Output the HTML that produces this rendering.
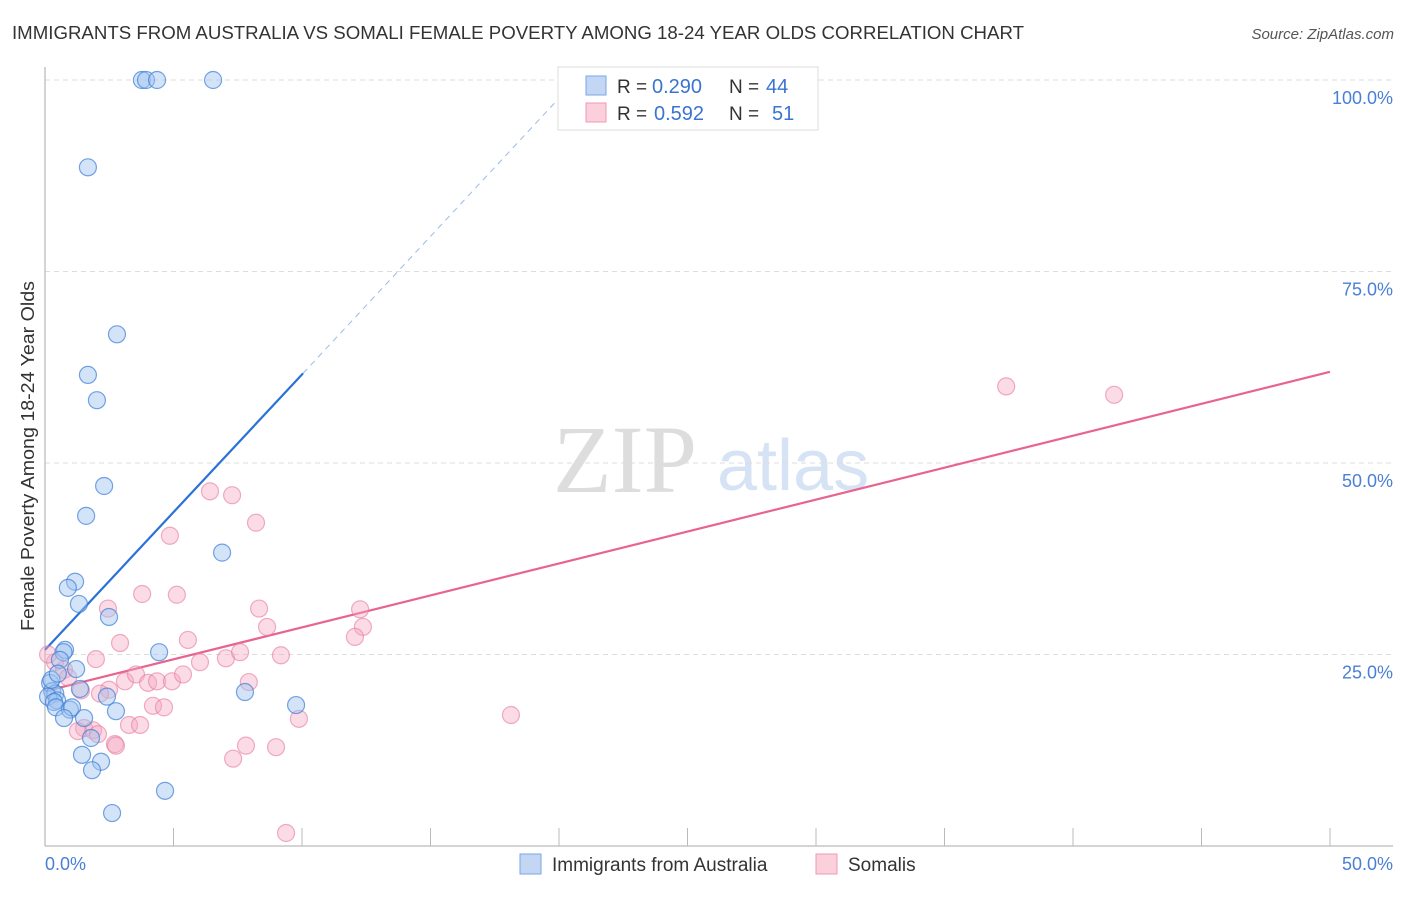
<!DOCTYPE html>
<html><head><meta charset="utf-8"><style>
body{margin:0;background:#fff;font-family:"Liberation Sans",sans-serif;}
</style></head><body>
<svg id="chart" width="1406" height="892" xmlns="http://www.w3.org/2000/svg">
<text x="12" y="39" font-size="18" fill="#333" textLength="1012" lengthAdjust="spacingAndGlyphs">IMMIGRANTS FROM AUSTRALIA VS SOMALI FEMALE POVERTY AMONG 18-24 YEAR OLDS CORRELATION CHART</text>
<text x="1394" y="39" font-size="15" font-style="italic" fill="#555" text-anchor="end">Source: ZipAtlas.com</text>
<text transform="translate(34,456) rotate(-90)" font-size="18" fill="#333" text-anchor="middle" textLength="350" lengthAdjust="spacingAndGlyphs">Female Poverty Among 18-24 Year Olds</text>
<text x="553" y="492" font-size="96" font-family="Liberation Serif,serif" fill="#ddd">ZIP</text>
<text x="717" y="490" font-size="72" fill="#d6e3f5">atlas</text>
<g id="grid"></g>
<g id="axes"></g>
<g id="trend"></g>
<g id="pts"></g>
<g>
<rect x="558" y="67" width="260" height="63" fill="#fff" stroke="#ddd"/>
<rect x="586" y="76" width="20" height="19" fill="#c3d7f5" stroke="#7aa6e6"/>
<rect x="586" y="103" width="20" height="19" fill="#fbd0dc" stroke="#ee9ab2"/>
<text x="617" y="93" font-size="19" fill="#333">R =</text>
<text x="652" y="93" font-size="20" fill="#3a74d0">0.290</text>
<text x="729" y="93" font-size="19" fill="#333">N =</text>
<text x="766" y="93" font-size="20" fill="#3a74d0">44</text>
<text x="617" y="120" font-size="19" fill="#333">R =</text>
<text x="654" y="120" font-size="20" fill="#3a74d0">0.592</text>
<text x="729" y="120" font-size="19" fill="#333">N =</text>
<text x="772" y="120" font-size="20" fill="#3a74d0">51</text>
</g>
<g>
<rect x="520" y="854" width="21" height="20" fill="#c3d7f5" stroke="#7aa6e6"/>
<text x="552" y="871" font-size="19" fill="#333">Immigrants from Australia</text>
<rect x="816" y="854" width="21" height="20" fill="#fbd0dc" stroke="#ee9ab2"/>
<text x="848" y="871" font-size="19" fill="#333">Somalis</text>
</g>
</svg>
<script>
const yTicks=[25,50,75,100];
const yTickLabels=["25.0%","50.0%","75.0%","100.0%"];
const xTickLabels=["0.0%","50.0%"];
const blueX=[3.77,3.93,4.36,6.54,1.67,2.8,1.67,2.02,2.3,1.6,6.89,1.17,0.89,1.32,2.49,0.78,0.72,4.44,1.21,0.58,0.2,0.28,0.4,0.12,0.47,0.35,1.36,2.41,7.78,9.77,0.43,0.97,1.05,2.76,0.74,1.52,1.79,1.44,2.18,1.83,4.67,2.61,0.25,0.5];
const blueY=[100,100,100,100,88.6,66.8,61.5,58.2,47.0,43.1,38.3,34.5,33.7,31.6,29.9,25.6,25.3,25.3,23.1,24.3,21.3,20.2,19.9,19.5,19.0,18.8,20.5,19.5,20.1,18.4,18.1,17.8,18.1,17.6,16.7,16.7,14.1,11.9,11.0,9.9,7.2,4.3,21.7,22.5];
const pinkX=[3.78,5.13,2.45,8.33,8.64,2.92,5.56,1.98,6.03,7.04,7.59,9.18,0.39,0.12,0.74,2.49,3.11,3.54,4.01,4.36,4.94,5.37,7.93,2.14,4.2,4.63,3.27,3.7,1.52,1.87,1.28,2.06,2.72,2.76,7.32,7.82,8.99,9.88,9.38,6.42,7.28,4.86,8.21,12.26,12.37,12.06,37.4,41.6,18.13,1.4,0.9];
const pinkY=[32.9,32.8,31.0,31.0,28.6,26.5,26.9,24.4,24.0,24.5,25.3,24.9,24.0,25.0,23.0,20.4,21.5,22.4,21.3,21.5,21.5,22.4,21.4,19.9,18.3,18.1,15.8,15.8,15.4,15.1,15.0,14.6,13.3,13.1,11.4,13.1,12.9,16.6,1.7,46.3,45.8,40.5,42.2,30.9,28.6,27.3,60.0,58.9,17.1,20.3,22.0];
const blueTrend=[[0,25.6],[10.04,61.7]];
const blueDash=[[10.04,61.7],[20.8,100.5]];
const pinkTrend=[[0,20.2],[50,61.9]];
const X0=45,X1=1330,Y0=846,Y100=80;
const sx=v=>X0+(X1-X0)*v/50;
const sy=v=>Y0-(Y0-Y100)*v/100;
const NS="http://www.w3.org/2000/svg";
function mk(tag,attrs,parent){const e=document.createElementNS(NS,tag);for(const k in attrs)e.setAttribute(k,attrs[k]);document.getElementById(parent).appendChild(e);return e;}
yTicks.forEach((t,i)=>{
 const g=mk('line',{x1:45,x2:1393,y1:sy(t),y2:sy(t),stroke:'#ddd','stroke-dasharray':'5,4'},'grid');
 
 
 const l=mk('text',{x:1393,y:sy(t)+24,'font-size':18,fill:'#4a7fd6','text-anchor':'end'},'grid');
 l.textContent=yTickLabels[i];
 
 
});
const ax=mk('line',{x1:45,x2:45,y1:67,y2:846,stroke:'#aaa'},'axes');


const bx=mk('line',{x1:45,x2:1393,y1:846,y2:846,stroke:'#aaa'},'axes');


for(let i=1;i<=10;i++){const t=mk('line',{x1:sx(i*5),x2:sx(i*5),y1:828,y2:846,stroke:'#bbb'},'axes');
 
 }
[[0,'start',45],[1,'end',1393]].forEach(([i,a,x])=>{const t=mk('text',{x:x,y:870,'font-size':18,fill:'#4a7fd6','text-anchor':a},'axes');t.textContent=xTickLabels[i];
 
 });
function seg(p,st,extra,name){const l=mk('line',Object.assign({x1:sx(p[0][0]),y1:sy(p[0][1]),x2:sx(p[1][0]),y2:sy(p[1][1]),stroke:st},extra),'trend');
 
 }
seg(blueDash,'#9bbbe8',{'stroke-width':1,'stroke-dasharray':'6,5'},'blue-trend-extension');
seg(blueTrend,'#2b72d8',{'stroke-width':2.2},'blue-trend-line');
seg(pinkTrend,'#e8648e',{'stroke-width':2.2},'pink-trend-line');
pinkX.forEach((x,i)=>{const c=mk('circle',{cx:sx(x),cy:sy(pinkY[i]),r:8.5,fill:'rgba(246,168,192,0.4)',stroke:'rgba(232,120,156,0.6)','stroke-width':1.2},'pts');
 
 });
blueX.forEach((x,i)=>{const c=mk('circle',{cx:sx(x),cy:sy(blueY[i]),r:8.5,fill:'rgba(160,195,240,0.45)',stroke:'rgba(60,125,215,0.7)','stroke-width':1.2},'pts');
 
 });
</script>
</body></html>
